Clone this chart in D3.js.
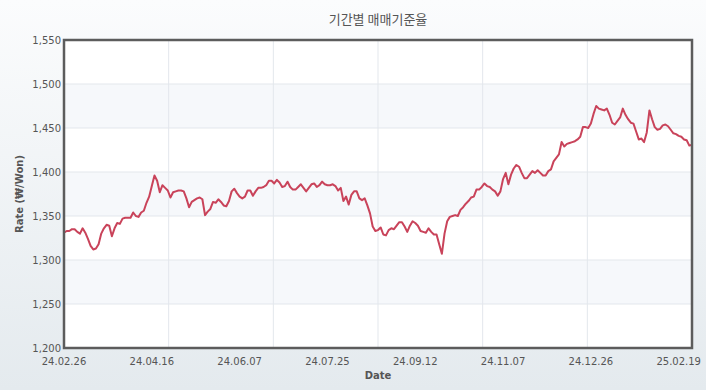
<!DOCTYPE html>
<html>
<head>
<meta charset="utf-8">
<script src="https://cdn.jsdelivr.net/npm/d3@7"></script>
<style>
  body { margin: 0; }
  text { font-family: "DejaVu Sans", Verdana, sans-serif; }
</style>
</head>
<body>
<div id="chart"></div>
<script>
// 매매기준율 (KRW per USD), one value per business day
var rates = [
    1331, 1333, 1333, 1335, 1335, 1332, 1330, 1336, 1331, 1324, 1316, 1312, 1313, 1318, 1330, 1336,
    1340, 1339, 1327, 1336, 1342, 1341, 1347, 1348, 1348, 1348, 1354, 1350, 1349, 1354, 1356, 1365,
    1372, 1384, 1396, 1390, 1377, 1385, 1382, 1379, 1371, 1377, 1378, 1379, 1379, 1378, 1370,
    1360, 1366, 1368, 1370, 1371, 1369, 1351, 1355, 1358, 1366, 1365, 1369, 1366, 1362, 1361, 1367,
    1378, 1381, 1376, 1372, 1370, 1372, 1379, 1379, 1373, 1378, 1382, 1382, 1383, 1385, 1390, 1390,
    1387, 1391, 1388, 1383, 1384, 1389, 1383, 1380, 1380, 1383, 1386, 1382, 1378, 1382, 1386,
    1387, 1383, 1385, 1389, 1386, 1385, 1385, 1386, 1384, 1379, 1382, 1367, 1372, 1363, 1374, 1378,
    1378, 1370, 1368, 1370, 1362, 1353, 1338, 1333, 1334, 1337, 1329, 1328, 1334, 1336, 1335, 1339,
    1343, 1343, 1338, 1332, 1339, 1344, 1342, 1339, 1333, 1332, 1331, 1336, 1332, 1329, 1329,
    1318, 1307, 1330, 1344, 1349, 1350, 1351, 1350, 1357, 1360, 1364, 1367, 1371, 1372, 1380, 1380,
    1383, 1387, 1384, 1383, 1380, 1378, 1373, 1378, 1392, 1399, 1386, 1397, 1404, 1408, 1406, 1399,
    1393, 1393, 1397, 1401, 1399, 1402, 1399, 1396, 1396, 1401, 1403, 1412, 1416, 1420,
    1434, 1429, 1432, 1433, 1434, 1435, 1437, 1440, 1451, 1451, 1450, 1455, 1466, 1475, 1472, 1471,
    1470, 1472, 1465, 1456, 1454, 1458, 1462, 1472, 1465, 1460, 1456, 1455, 1446, 1437, 1438, 1434,
    1445, 1470, 1460, 1451, 1448, 1449, 1453, 1454, 1452, 1448, 1444, 1443, 1441, 1440, 1437, 1436,
    1430, 1431
];

//x axis labels and the points they sit on
var tickLabels = ["24.02.26", "24.04.16", "24.06.07", "24.07.25", "24.09.12", "24.11.07", "24.12.26", "25.02.19"];
var tickIdx = [0, 33, 66, 99, 132, 165, 198, 231];

var yTicks = [1200, 1250, 1300, 1350, 1400, 1450, 1500, 1550];

var width = 706;
var height = 390;
var plotLeft = 64, plotRight = 692, plotTop = 40, plotBottom = 348;

var svg = d3.select("#chart").append("svg")
    .attr("width", width)
    .attr("height", height);

//Page background
var grad = svg.append("defs").append("linearGradient")
    .attr("id", "bg")
    .attr("x1", 0).attr("y1", 0).attr("x2", 0).attr("y2", 1);
grad.append("stop").attr("offset", "0%").attr("stop-color", "#fbfcfd");
grad.append("stop").attr("offset", "100%").attr("stop-color", "#e4eaee");

svg.append("rect")
    .attr("width", width)
    .attr("height", height)
    .attr("fill", "url(#bg)");

var x = d3.scaleLinear().domain([0, rates.length - 1]).range([plotLeft, plotRight]);
var y = d3.scaleLinear().domain([1200, 1550]).range([plotBottom, plotTop]);
var gx = d3.scaleLinear().domain([0, 6]).range([plotLeft, plotRight]);

svg.append("rect")
    .attr("x", plotLeft).attr("y", plotTop)
    .attr("width", plotRight - plotLeft).attr("height", plotBottom - plotTop)
    .attr("fill", "#fff");

//Alternating bands
svg.selectAll("rect.band")
    .data(yTicks.slice(0, -1).filter(function (d, i) { return i % 2 === 1; }))
    .enter()
    .append("rect")
    .attr("class", "band")
    .attr("x", plotLeft)
    .attr("width", plotRight - plotLeft)
    .attr("y", function (d) { return y(d + 50); })
    .attr("height", function (d) { return y(d) - y(d + 50); })
    .attr("fill", "#f6f8fb");

//Grid
svg.selectAll("line.hgrid")
    .data(yTicks.slice(1, -1))
    .enter()
    .append("line")
    .attr("class", "hgrid")
    .attr("x1", plotLeft).attr("x2", plotRight)
    .attr("y1", function (d) { return y(d); })
    .attr("y2", function (d) { return y(d); })
    .attr("stroke", "#e3e7ec")
    .attr("stroke-width", 1);

svg.selectAll("line.vgrid")
    .data(d3.range(1, 6))
    .enter()
    .append("line")
    .attr("class", "vgrid")
    .attr("x1", function (d) { return gx(d); })
    .attr("x2", function (d) { return gx(d); })
    .attr("y1", plotTop).attr("y2", plotBottom)
    .attr("stroke", "#e3e7ec")
    .attr("stroke-width", 1);

//Rate line
var line = d3.line()
    .x(function (d, i) { return x(i); })
    .y(function (d) { return y(d); });

svg.append("path")
    .datum(rates)
    .attr("d", line)
    .attr("fill", "none")
    .attr("stroke", "#c9435a")
    .attr("stroke-width", 2)
    .attr("stroke-linejoin", "round");

//Frame
svg.append("rect")
    .attr("x", plotLeft).attr("y", plotTop)
    .attr("width", plotRight - plotLeft).attr("height", plotBottom - plotTop)
    .attr("fill", "none")
    .attr("stroke", "#5c5c5c")
    .attr("stroke-width", 2.5);

//Y labels
svg.selectAll("text.ylab")
    .data(yTicks)
    .enter()
    .append("text")
    .attr("class", "ylab")
    .attr("x", plotLeft - 3)
    .attr("y", function (d) { return y(d); })
    .attr("dy", "0.35em")
    .attr("text-anchor", "end")
    .attr("font-size", 10)
    .attr("fill", "#555")
    .text(function (d) { return d3.format(",")(d); });

//X labels
svg.selectAll("text.xlab")
    .data(tickLabels)
    .enter()
    .append("text")
    .attr("class", "xlab")
    .attr("x", function (d, i) { return x(tickIdx[i]); })
    .attr("y", 365)
    .attr("text-anchor", "middle")
    .attr("font-size", 10)
    .attr("fill", "#555")
    .text(function (d) { return d; });

svg.append("text")
    .attr("x", (plotLeft + plotRight) / 2)
    .attr("y", 24)
    .attr("text-anchor", "middle")
    .attr("font-size", 13)
    .attr("fill", "#555")
    .style("font-family", "'Noto Sans CJK KR', sans-serif")
    .text("기간별 매매기준율");

svg.append("text")
    .attr("x", (plotLeft + plotRight) / 2)
    .attr("y", 379)
    .attr("text-anchor", "middle")
    .attr("font-size", 10)
    .attr("font-weight", "bold")
    .attr("fill", "#555")
    .text("Date");

svg.append("text")
    .attr("transform", "translate(23," + ((plotTop + plotBottom) / 2) + ") rotate(-90)")
    .attr("text-anchor", "middle")
    .attr("font-size", 10)
    .attr("font-weight", "bold")
    .attr("fill", "#555")
    .text("Rate (₩/Won)");
</script>
</body>
</html>
